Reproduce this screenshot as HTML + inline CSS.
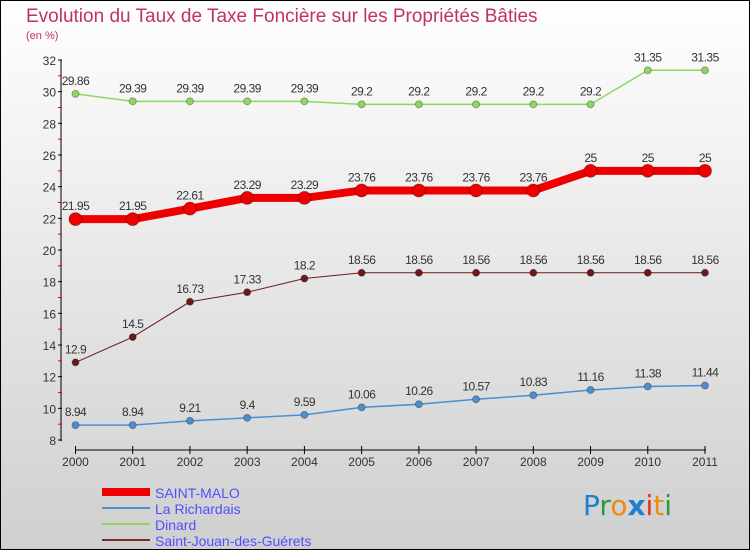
<!DOCTYPE html>
<html><head><meta charset="utf-8"><style>
body{margin:0}
svg{display:block;font-family:"Liberation Sans",sans-serif}
</style></head><body>
<svg width="750" height="550" viewBox="0 0 750 550">
<defs><linearGradient id="bg" x1="0" y1="0" x2="0" y2="1"><stop offset="0" stop-color="#ffffff"/><stop offset="1" stop-color="#cfcfcf"/></linearGradient></defs>
<rect x="0.5" y="0.5" width="749" height="549" fill="url(#bg)" stroke="#000"/>
<text x="26" y="22" font-size="19" fill="#c0306a">Evolution du Taux de Taxe Foncière sur les Propriétés Bâties</text>
<text x="26" y="39" font-size="11" fill="#c0306a">(en %)</text>
<g id="axes"></g><g id="series"></g>
<g>
<line x1="102" y1="492" x2="150" y2="492" stroke="#ee0000" stroke-width="8"/><text x="155" y="498" font-size="14" fill="#5050ff">SAINT-MALO</text>
<line x1="102" y1="508" x2="150" y2="508" stroke="#4a90d0" stroke-width="2"/><text x="155" y="514" font-size="14" fill="#5050ff">La Richardais</text>
<line x1="102" y1="524" x2="150" y2="524" stroke="#8ed860" stroke-width="2"/><text x="155" y="530" font-size="14" fill="#5050ff">Dinard</text>
<line x1="102" y1="540" x2="150" y2="540" stroke="#7a2a2a" stroke-width="2"/><text x="155" y="546" font-size="14" fill="#5050ff">Saint-Jouan-des-Guérets</text>
</g>
<g font-size="28" font-family="'DejaVu Sans',sans-serif">
<text x="583" y="515"><tspan fill="#1f7fd0">P</tspan><tspan fill="#2a9a40">r</tspan><tspan fill="#f08a10">o</tspan><tspan fill="#1f7fd0" font-weight="bold">x</tspan><tspan fill="#e83010">i</tspan><tspan fill="#f08a10">t</tspan><tspan fill="#2a9a40">i</tspan></text>
</g>
</svg>
<script>
const years=["2000","2001","2002","2003","2004","2005","2006","2007","2008","2009","2010","2011"];
const yTicks=[8,10,12,14,16,18,20,22,24,26,28,30,32];
const saintMalo=[21.95,21.95,22.61,23.29,23.29,23.76,23.76,23.76,23.76,25,25,25];
const laRichardais=[8.94,8.94,9.21,9.4,9.59,10.06,10.26,10.57,10.83,11.16,11.38,11.44];
const dinard=[29.86,29.39,29.39,29.39,29.39,29.2,29.2,29.2,29.2,29.2,31.35,31.35];
const saintJouan=[12.9,14.5,16.73,17.33,18.2,18.56,18.56,18.56,18.56,18.56,18.56,18.56];
const NS="http://www.w3.org/2000/svg";
const X=i=>75.5+i*(705-75.5)/(years.length-1);
const Y=v=>440-(v-8)*(380/24);
function mk(t,a,p){const e=document.createElementNS(NS,t);for(const k in a)e.setAttribute(k,a[k]);p.appendChild(e);return e;}
const ax=document.getElementById('axes');
mk('line',{x1:61,y1:60,x2:61,y2:441,stroke:'#000'},ax);
mk('line',{x1:75,y1:450,x2:706,y2:450,stroke:'#000'},ax);
yTicks.forEach(v=>{
 mk('line',{x1:58,y1:Y(v),x2:62,y2:Y(v),stroke:'#000'},ax);
 if(v<32) mk('line',{x1:58,y1:Y(v+1),x2:62,y2:Y(v+1),stroke:'#e00'},ax);
 const t=mk('text',{x:56,y:Y(v)+5,'text-anchor':'end','font-size':12,fill:'#333'},ax);
 
 
 t.textContent=v;
});
years.forEach((y,i)=>{
 mk('line',{x1:X(i),y1:446,x2:X(i),y2:454,stroke:'#000'},ax);
 const t=mk('text',{x:X(i),y:466,'text-anchor':'middle','font-size':12,fill:'#333'},ax);
 
 
 t.textContent=y;
});
const sg=document.getElementById('series');
function series(name,data,color,w,r){
 const g=mk('g',{},sg);
 
 
 mk('polyline',{points:data.map((v,i)=>X(i)+','+Y(v)).join(' '),fill:'none',stroke:color,'stroke-width':w},g);
 data.forEach((v,i)=>{
  const c=mk('circle',{cx:X(i),cy:Y(v),r:r,fill:color,stroke:'rgba(0,0,0,0.3)'},g);
  
  
  const t=mk('text',{x:X(i),y:Y(v)-9,'text-anchor':'middle','font-size':12,fill:'#333','letter-spacing':'-0.5'},g);
  
  
  t.textContent=v;
 });
}
series('dinard-line',dinard,'#8ed860',1.5,3.5);
series('saint-jouan-line',saintJouan,'#6b1a1a',1,3.5);
series('la-richardais-line',laRichardais,'#4a90d0',1.5,3.5);
series('saint-malo-line',saintMalo,'#ee0000',8,6.5);
</script>
</body></html>
